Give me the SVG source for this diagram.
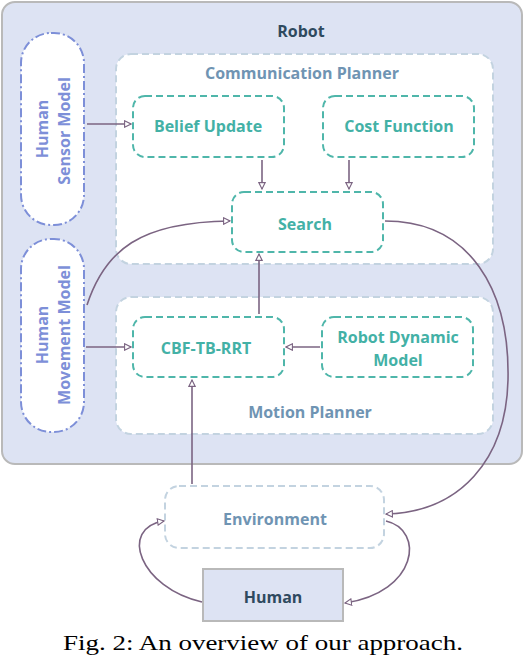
<svg xmlns="http://www.w3.org/2000/svg" width="526" height="656" viewBox="0 0 526 656">
<defs>
<style>
.lbl{font-family:"Open Sans","Liberation Sans",sans-serif;font-weight:700;font-size:16px;text-anchor:middle;dominant-baseline:central}
.teal{fill:#43b1a6}
.steel{fill:#6f94b3}
.dark{fill:#2f4a5f}
.hum{fill:#7d8fd8}
.node{fill:#ffffff;stroke:#4fb6aa;stroke-width:2;stroke-dasharray:7 4}
.plan{fill:#ffffff;stroke:#c3d3e0;stroke-width:2;stroke-dasharray:7 4}
.pill{fill:#ffffff;stroke:#7d8fd8;stroke-width:2;stroke-dasharray:9 3 2 3}
.conn{fill:none;stroke:#7b6482;stroke-width:1.6}
.cap{font-family:"Liberation Serif","Times New Roman",serif;font-size:21px;text-anchor:middle;fill:#000000}
</style>
<marker id="ah" viewBox="0 0 10 10" refX="9" refY="5" markerWidth="8" markerHeight="8" orient="auto" markerUnits="userSpaceOnUse">
<path d="M1,1 L9,5 L1,9 Z" fill="#ffffff" stroke="#7b6482" stroke-width="1.4"/>
</marker>
</defs>
<rect width="526" height="656" fill="#ffffff"/>
<g id="robot">
<rect x="2" y="2" width="520" height="462" rx="13" fill="#dde3f3" stroke="#b9b9b9" stroke-width="2"/>
<text class="lbl dark" x="301" y="31">Robot</text>
</g>
<g id="communication-planner">
<rect class="plan" x="116" y="54" width="377" height="210" rx="15"/>
<text class="lbl steel" x="302" y="73">Communication Planner</text>
</g>
<g id="motion-planner">
<rect class="plan" x="116" y="297" width="377" height="137" rx="15"/>
<text class="lbl steel" x="310" y="412">Motion Planner</text>
</g>
<g id="human-sensor-model">
<rect class="pill" x="21" y="33" width="63" height="192" rx="30"/>
<text class="lbl hum" transform="translate(42,129) rotate(-90)">Human</text>
<text class="lbl hum" transform="translate(64,131) rotate(-90)">Sensor Model</text>
</g>
<g id="human-movement-model">
<rect class="pill" x="21" y="239" width="63" height="193" rx="30"/>
<text class="lbl hum" transform="translate(42,335) rotate(-90)">Human</text>
<text class="lbl hum" transform="translate(64,335) rotate(-90)">Movement Model</text>
</g>
<g id="belief-update">
<rect class="node" x="133" y="96" width="151" height="61" rx="12"/>
<text class="lbl teal" x="208" y="126">Belief Update</text>
</g>
<g id="cost-function">
<rect class="node" x="323" y="96" width="151" height="61" rx="12"/>
<text class="lbl teal" x="399" y="126">Cost Function</text>
</g>
<g id="search">
<rect class="node" x="232" y="192" width="151" height="60" rx="12"/>
<text class="lbl teal" x="305" y="224">Search</text>
</g>
<g id="cbf-tb-rrt">
<rect class="node" x="133" y="317" width="151" height="60" rx="12"/>
<text class="lbl teal" x="206" y="348">CBF-TB-RRT</text>
</g>
<g id="robot-dynamic-model">
<rect class="node" x="322" y="317" width="151" height="60" rx="12"/>
<text class="lbl teal" x="398" y="337">Robot Dynamic</text>
<text class="lbl teal" x="398" y="360">Model</text>
</g>
<g id="environment">
<rect class="plan" x="165" y="486" width="219" height="62" rx="14"/>
<text class="lbl steel" x="275" y="519">Environment</text>
</g>
<g id="human">
<rect x="203" y="569" width="140" height="52" fill="#dde3f3" stroke="#b9b9b9" stroke-width="2"/>
<text class="lbl dark" x="273" y="597">Human</text>
</g>
<g id="connectors">
<path class="conn" d="M87,124 L131,124" marker-end="url(#ah)"/>
<path class="conn" d="M262,160 L262,189" marker-end="url(#ah)"/>
<path class="conn" d="M349,160 L349,189" marker-end="url(#ah)"/>
<path class="conn" d="M86,347 L131,347" marker-end="url(#ah)"/>
<path class="conn" d="M320,347 L286,347" marker-end="url(#ah)"/>
<path class="conn" d="M259,314 L259,254" marker-end="url(#ah)"/>
<path class="conn" d="M192,484 L192,380" marker-end="url(#ah)"/>
<path class="conn" d="M87,305 C105,250 140,222 230,221" marker-end="url(#ah)"/>
<path class="conn" d="M385,221 C470,221 510,290 508,380 C506,460 460,512 386,514" marker-end="url(#ah)"/>
<path class="conn" d="M386,521 C425,530 418,592 345,603" marker-end="url(#ah)"/>
<path class="conn" d="M202,602 C140,588 118,528 164,521" marker-end="url(#ah)"/>
</g>
<text class="cap" x="263" y="650" textLength="400" lengthAdjust="spacingAndGlyphs">Fig. 2: An overview of our approach.</text>
</svg>
